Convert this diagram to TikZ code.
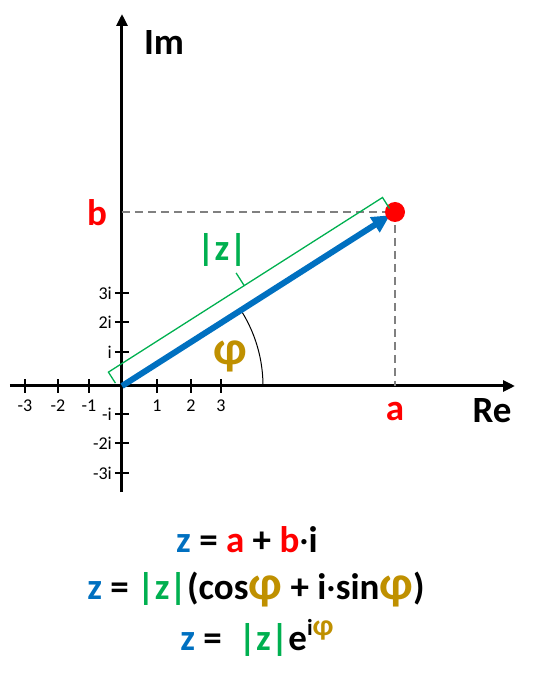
\documentclass[tikz,border=0pt]{standalone}
\usepackage{fontspec}
\setmainfont{Carlito}
\usetikzlibrary{arrows.meta,positioning}

\definecolor{vecblue}{RGB}{0,112,192}
\definecolor{absgreen}{RGB}{0,176,80}
\definecolor{phigold}{RGB}{191,144,0}
\definecolor{ptred}{RGB}{255,0,0}
\definecolor{dashgray}{RGB}{128,128,128}

\newcommand{\bigphi}{\textcolor{phigold}{\scalebox{1.3}{φ}}}

\begin{document}
\begin{tikzpicture}[x=1pt,y=1pt,
                    axis/.style={line width=3pt,-{Triangle[length=12pt,width=11pt]}},
                    tick/.style={line width=2pt},
                    tick label/.style={font=\fontsize{18}{18}\selectfont,inner sep=1pt},
                    big label/.style={font=\fontsize{37}{37}\selectfont\bfseries,inner sep=0pt},
                    formula/.style={font=\fontsize{37}{37}\selectfont\bfseries,inner sep=0pt},
                    helper line/.style={dashgray,dash pattern=on 8pt off 5pt,line width=2pt},
                    vector/.style={vecblue,line width=6pt,-{Triangle[length=18pt,width=17pt]},shorten >=6pt}
                    ]
  \useasboundingbox (-122,-302) rectangle (414,386);

  % axes
  \coordinate (O) at (0,0);
  \coordinate (xmin) at (-112,0);
  \coordinate (xmax) at (393,0);
  \coordinate (ymin) at (0,-106);
  \coordinate (ymax) at (0,372);
  \draw[axis] (xmin) -- (xmax);
  \draw[axis] (ymin) -- (ymax);
  \node[big label] (re) at (370,-25) {Re};
  \node[big label] (im) at (42,343) {Im};

  % ticks
  \foreach \x/\t in {-97/-3,-64/-2,-33/-1,35/1,69/2,99/3}{
    \draw[tick] (\x,-7) -- (\x,7);
    \node[tick label] at (\x,-20) {\t};
  }
  \foreach \y/\t in {93/3i,64/2i,34/i,-28/-i,-57/-2i,-87/-3i}{
    \draw[tick] (-7,\y) -- (7,\y);
    \node[tick label,anchor=east] at (-9,\y) {\t};
  }

  % point z
  \coordinate (Pa) at (273,0);
  \coordinate (Pb) at (0,174);
  \node[circle,inner sep=0pt,minimum size=20pt] (P) at (273,174) {};
  \draw[helper line] (Pb) -- (P.center) -- (Pa);
  \node[big label,text=ptred] (a) at (273,-25) {a};
  \node[big label,text=ptred] (b) at (-25,173) {b};

  \draw[line width=1pt] (141,0) arc[start angle=0,end angle=32.5,radius=141];
  \draw[vector] (O) -- (P.center);
  \fill[ptred] (P) circle[radius=10pt];
  \node[big label] (phi) at (108,30) {\bigphi};

  % brace for |z|
  \begin{scope}[rotate=32.5]
    \draw[absgreen,line width=1.3pt] (-4,6) -- (-4,19) -- (321,19) -- (321,6)
      (157,19) -- (157,34);
  \end{scope}
  \node[big label,text=absgreen] (absz) at (100,136) {|z|};

  % formulas
  \node[formula] (f1) at (125,-154)
    {\textcolor{vecblue}{z} = \textcolor{ptred}{a} + \textcolor{ptred}{b}{\mdseries·}i};
  \node[formula] (f2) at (134,-204)
    {\textcolor{vecblue}{z} = \textcolor{absgreen}{|z|}(cos\bigphi{} + i{\mdseries·}sin\bigphi)};
  \node[formula] (f3) at (135,-252)
    {\textcolor{vecblue}{z} = \ \textcolor{absgreen}{|z|}e\raisebox{0.42em}{\fontsize{23}{23}\selectfont i\bigphi}};
\end{tikzpicture}
\end{document}
